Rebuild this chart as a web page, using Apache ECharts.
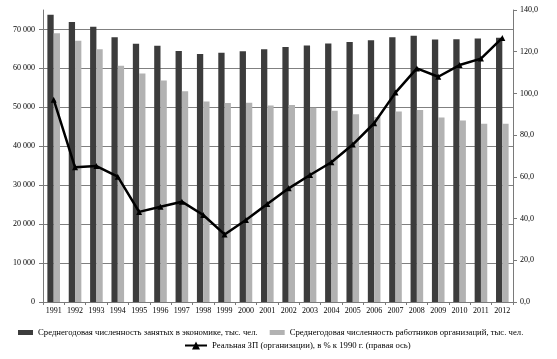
<!DOCTYPE html>
<html>
<head>
<meta charset="utf-8">
<script src="https://cdn.jsdelivr.net/npm/echarts@6/dist/echarts.min.js"></script>
<style>html,body{margin:0;padding:0;background:#fff}#c{width:557px;height:359px}</style>
</head>
<body>
<div id="c"></div>
<script>
const years = ['1991','1992','1993','1994','1995','1996','1997','1998','1999','2000','2001','2002','2003','2004','2005','2006','2007','2008','2009','2010','2011','2012'];
const employed = [73800, 71900, 70700, 68000, 66300, 65800, 64500, 63700, 64000, 64400, 64900, 65500, 65900, 66400, 66800, 67200, 68000, 68400, 67400, 67500, 67700, 67900];
const employees = [69000, 67100, 64900, 60700, 58700, 56900, 54100, 51500, 51100, 51200, 50500, 50600, 49900, 49100, 48200, 47500, 48900, 49300, 47400, 46600, 45800, 45800];
const realWage = [97.0, 64.6, 65.2, 60.1, 43.2, 45.7, 48.1, 41.7, 32.4, 39.3, 47.0, 54.5, 60.9, 67.0, 75.5, 85.7, 100.4, 112.0, 108.0, 113.6, 116.7, 126.6];
const names = ['Среднегодовая численность занятых в экономике, тыс. чел.', 'Среднегодовая численность работников организаций, тыс. чел.', 'Реальная ЗП (организации), в % к 1990 г. (правая ось)'];

const FONT = '"Liberation Serif", "DejaVu Serif", serif';
const chart = echarts.init(document.getElementById('c'), null, {renderer: 'canvas'});
chart.setOption({
  animation: false,
  backgroundColor: '#fff',
  textStyle: {fontFamily: FONT, color: '#000'},
  grid: {left: 43, right: 44, top: 10, bottom: 57, containLabel: false},
  legend: [
    {data: [names[0], names[1]], left: 13, top: 323, itemWidth: 15, itemHeight: 5, itemGap: 12,
     textStyle: {fontFamily: FONT, fontSize: 8.7, color: '#000'}, icon: 'rect'},
    {data: [names[2]], left: 179, top: 336, itemWidth: 22, itemHeight: 10, itemGap: 10,
     textStyle: {fontFamily: FONT, fontSize: 8.7, color: '#000'}}
  ],
  xAxis: {
    type: 'category', data: years, boundaryGap: true,
    axisLine: {lineStyle: {color: '#7a7a7a', width: 1}},
    axisTick: {show: true, length: 3, lineStyle: {color: '#7a7a7a'}},
    axisLabel: {fontFamily: FONT, fontSize: 8, color: '#000', margin: 5, interval: 0}
  },
  yAxis: [
    {type: 'value', min: 0, max: 75000, interval: 10000, position: 'left',
     axisLine: {show: true, lineStyle: {color: '#7a7a7a'}},
     axisTick: {show: true, length: 4, lineStyle: {color: '#7a7a7a'}},
     axisLabel: {fontFamily: FONT, fontSize: 8, color: '#000', margin: 8, showMaxLabel: false,
       formatter: v => v === 0 ? '0' : (v >= 75000 ? '' : (v / 1000) + ' 000')},
     splitLine: {show: true, showMaxLine: false, lineStyle: {color: '#808080', width: 1}}
    },
    {type: 'value', min: 0, max: 140, interval: 20, position: 'right',
     axisLine: {show: true, lineStyle: {color: '#7a7a7a'}},
     axisTick: {show: true, length: 4, lineStyle: {color: '#7a7a7a'}},
     axisLabel: {fontFamily: FONT, fontSize: 8, color: '#000', margin: 7,
       formatter: v => v.toFixed(1).replace('.', ',')},
     splitLine: {show: false}
    }
  ],
  series: [
    {name: names[0], type: 'bar', data: employed, yAxisIndex: 0, barGap: '0%', barCategoryGap: '41%',
     itemStyle: {color: '#3c3c3c'}},
    {name: names[1], type: 'bar', data: employees, yAxisIndex: 0, barGap: '0%', barCategoryGap: '41%',
     itemStyle: {color: '#b2b2b2'}},
    {name: names[2], type: 'line', data: realWage, yAxisIndex: 1, symbol: 'triangle', symbolSize: 6,
     showAllSymbol: true,
     lineStyle: {color: '#000', width: 2.5}, itemStyle: {color: '#000'}, z: 5}
  ]
});
</script>
</body>
</html>
